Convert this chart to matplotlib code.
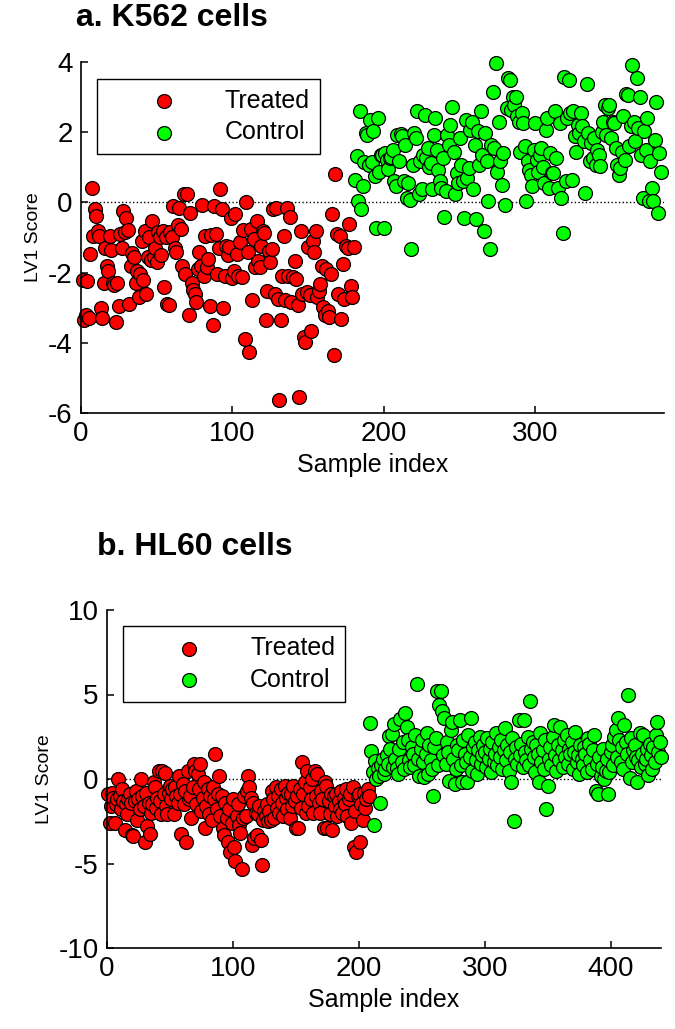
import numpy as np
import matplotlib.pyplot as plt

plt.rcParams['font.family'] = ['Liberation Sans', 'DejaVu Sans']
plt.rcParams['axes.unicode_minus'] = False

# a. K562 cells - LV1 score per sample, in sample order
k562_treated = [
    -2.2, -3.35, -3.2, -2.25, -3.3, -1.47, 0.42, -0.95, -0.2, -0.39,
    -0.81, -0.96, -3.0, -3.3, -2.3, -1.3, -1.8, -1.95, -0.96, -1.35,
    -2.3, -2.35, -3.4, -2.3, -2.94, -0.9, -1.3, -0.25, -0.85, -0.44,
    -0.8, -2.9, -1.8, -1.45, -1.55, -2.3, -1.95, -2.7, -2.05, -1.1,
    -2.2, -0.81, -2.6, -1.55, -1.0, -1.65, -0.53, -1.55, -1.3, -1.7,
    -0.85, -1.0, -1.5, -0.81, -2.4, -1.0, -2.9, -2.92, -0.85, -1.0,
    -0.1, -1.3, -1.4, -0.65, -0.15, -0.75, -1.8, 0.23, -2.05, 0.23,
    -3.2, -0.3, -2.3, -2.5, -2.6, -2.85, -1.9, -1.4, -1.8, -0.06,
    -2.1, -0.97, -1.85, -1.6, -2.95, -0.93, -3.5, -0.1, -0.9, -2.05,
    -1.3, 0.37, -0.2, -3.0, -2.1, -1.25, -1.5, -1.28, -0.44, -2.15,
    -1.95, -0.33, -1.47, -2.09, -1.14, -2.13, -0.8, -3.88, 0.0, -1.42,
    -4.26, -0.76, -2.79, -1.05, -1.85, -0.53, -1.66, -1.85, -1.24, -0.81,
    -0.86, -3.36, -2.51, -1.38, -1.71, -1.33, -0.2, -2.6, -0.15, -2.75,
    -5.63, -3.36, -2.09, -0.95, -2.79, -0.15, -2.09, -0.43, -2.84, -2.13,
    -1.66, -2.18, -2.93, -5.53, -0.81, -2.6, -3.84, -3.98, -2.55, -1.28,
    -2.65, -3.65, -1.09, -1.42, -0.81, -2.7, -2.51, -2.32, -1.8, -2.98,
    -3.22, -1.9, -3.08, -3.27, -2.04, -0.33, -4.35, 0.8, -0.9, -2.6,
    -0.95, -3.31, -1.75, -2.75, -1.24, -1.3, -0.62, -2.37, -2.7, -1.28,
]
k562_control = [
    0.65, 1.31, 0.04, 2.59, -0.2, 0.46, 1.16, 1.98, 1.93, 1.07,
    2.35, 1.16, 2.02, 0.74, -0.72, 2.4, 0.88, 1.36, 1.36, -0.72,
    1.4, 1.2, 0.95,
    1.26, 1.3, 1.5, 0.6, 0.46, 1.93, 1.17, 1.94, 1.9, 0.6, 1.64,
    0.13, 0.55, 0.08, -1.33, 1.07, 1.98, 1.84, 2.59, 0.23, 1.17,
    0.37, 1.36, 2.5, 1.26, 1.55, 1.0, 1.12, 0.37, 1.93, 2.4, 1.5, 0.93,
    0.6, 0.41, 1.26, -0.43, 0.32, 1.93, 1.64, 2.21, 2.73, 1.45,
    0.23, 0.84, 0.55, 1.83, 1.07, 0.6, -0.45, 2.35, 0.69, 0.98,
    2.07, 2.3, 0.37, 1.64, -0.48, 2.02, 1.07, 2.59, 1.36, -0.81,
    1.98, 1.17, 0.04, -1.33, 1.64, 3.15, 1.55, 3.96, 0.88, 2.3,
    1.17, 0.5, 1.41, -0.06, 2.68, 3.53, 3.48, 2.63, 3.01, 2.78,
    3.0, 2.45, 2.3, 1.45, 2.55, 2.25, 1.6, 0.04, 1.17, 0.93,
    0.79, 0.46, 1.5, 2.25, 1.2, 0.88, 1.36, 1.55, 1.0, 0.55, 2.07, 2.4,
    0.41, 1.41, 0.84, 0.84, 2.59, 1.26, 0.41, 2.25, 0.13, -0.86,
    3.58, 0.6, 2.4, 3.48, 2.55, 0.65, 2.59, 1.89, 1.45, 2.21,
    1.98, 2.55, 2.17, 1.74, 0.27, 3.36, 1.98, 1.17, 1.7, 1.26,
    1.84, 1.07, 1.5, 1.36, 1.03, 2.0, 2.3, 2.78, 1.93, 2.68, 2.78, 1.84,
    2.3, 2.25, 1.55, 1.07, 0.79, 0.98, 1.45, 2.45, 1.2, 3.1, 3.05, 1.6,
    2.17, 3.91, 2.3, 1.74, 3.55, 2.11, 3.0, 1.36, 0.13, 2.02,
    1.5, 2.4, 0.04, 1.17, 0.41, 0.04, 1.79, 2.86, -0.3, 1.41,
    0.88,
]

# b. HL60 cells
hl60_treated = [
    -0.9, -2.6, -1.6, -0.8, -1.1, -2.6, -1.5, -1.2, 0.0, -1.0,
    -1.8, -0.6, -1.3, -3.0, -1.5, -2.1, -1.2, -0.9, -1.4, -3.3,
    -3.4, -1.3, -0.7, -2.4, -1.2, -1.8, 0.0, -1.0, -1.6, -3.7,
    -0.8, -2.8, -1.4, -3.25, -2.0, -1.5, -0.2, -0.5, -1.7, -1.1,
    0.45, -1.3, -2.1, 0.5, -0.9, 0.35, -1.6, -2.1, -0.8, -0.4,
    -1.2, -0.6, -2.1, -0.5, -1.0, -1.4, 0.2, -0.9, -3.25, -0.3,
    -1.5, -0.7, -3.7, 0.45, -1.2, -1.0, -2.3, -0.5, 0.9, 0.5,
    -1.5, 0.3, -0.6, 0.9, -1.9, -1.1, -0.2, -2.9, -1.6, -0.6,
    -2.1, -1.0, -2.4, -0.5, -1.2, 1.5, -1.8, -0.9, 0.2, -2.2,
    -1.0, -2.9, -3.3, -1.4, -2.3, -3.7, -1.8, -4.3, -2.6, -1.2,
    -4.0, -4.85, -2.2, -1.5, -2.7, -3.2, -5.3, -2.3, -1.0, -2.2,
    -0.7, 0.2, -0.5, -1.1, -3.9, -1.4, -3.5, -2.0, -3.3, -2.1,
    -1.6, -3.6, -5.1, -2.4, -1.9, -2.2, -1.5, -2.5, -1.9, -2.4,
    -0.7, -1.2, -2.3, -0.5, -1.7, -1.0, -2.0, -0.6, -1.4, -2.2,
    -0.4, -1.1, -1.8, -0.8, -2.3, -0.9, -1.6, -0.4, -1.3, -2.9,
    -1.0, -2.9, -0.6, -1.7, 1.0, -0.9, -0.2, -2.0, 0.5, -1.6,
    -0.5, -1.2, 0.0, -2.0, 0.5, -1.0, 0.3, -1.4, -2.0, -0.7,
    -1.2, -2.9, -0.2, -0.4, -2.9, -1.3, -2.1, -0.9, -3.0, -1.0,
    -1.6, -0.9, -2.2, -1.3, -1.8, -0.7, -2.0, -1.1, -1.5, -0.6,
    -2.2, -1.2, -0.9, -2.6, -0.45, -4.0, -1.9, -4.3, -1.0, -0.9,
    -3.7, -1.5, -2.4, -0.8, -1.7, -1.2, -0.6, -1.0,
]
hl60_control = [
    3.3, 1.65, 0.4, -2.7, 1.07, 0.0, 0.67, 0.18, -1.4, 0.8,
    1.2, 0.3, 0.6, 1.4, 0.9, 2.56, 1.8, 2.66, 0.7, 3.25,
    1.2, 0.67, 0.3, 1.8, 3.54, 1.0, 2.2, 0.6, 3.9, 3.05,
    2.3, 1.1, 0.7, 1.9, 1.5, 0.8, 2.6, 5.6, 1.2, 0.2,
    1.8, 2.3, 1.0, 0.1, 1.5, 2.7, 0.3, 2.0, 1.1, 0.6,
    -1.0, 1.9, 2.4, 5.2, 0.8, 4.4, 5.2, 4.0, 1.4, 3.6,
    0.9, 2.2, 1.6, -0.1, 2.9, 3.4, 1.2, -0.3, 0.6, 2.0,
    1.7, 3.5, 0.8, -0.2, 2.3, 1.5, 1.0, -0.2, 2.6, 1.3,
    3.6, 0.5, 1.9, 2.2, 1.1, 0.3, 1.7, 2.5, 0.9, 1.4,
    2.0, 1.6, 0.7, 2.4, 1.2, 1.8, 0.4, 2.2, 1.0, 1.5,
    2.7, 0.8, 1.9, 1.3, 2.3, 0.6, 1.7, 3.0, 1.1, 2.0,
    0.5, 1.6, -0.15, 2.4, -2.5, 1.2, 1.9, 0.9, 3.5, 1.4,
    2.1, 0.7, 3.5, 1.6, 1.1, 2.5, 0.8, 4.6, 1.8, 2.2,
    1.3, 0.4, 2.0, 1.5, -0.2, 2.7, 1.0, 1.7, 0.6, 2.3,
    -1.8, -0.4, 1.2, 1.9, 0.8, 2.5, 3.2, 1.4, 0.5, 2.0,
    1.1, 3.1, 1.7, 0.7, 2.3, 1.3, 2.6, 0.9, 1.8, 1.5,
    2.2, 0.6, 1.6, 2.8, 1.0, 1.4, 0.3, 2.0, 1.2, 0.8,
    1.9, 1.5, 0.4, 2.4, 2.1, 1.1, 0.6, 1.7, 2.6, -0.7,
    0.9, -0.9, 1.3, 0.2, 0.7, 1.8, 0.0, 0.5, 1.2, -0.9,
    0.4, 1.6, 2.0, 0.8, 2.5, 2.9, 1.3, 3.6, 2.3, 1.0,
    1.9, 0.6, 3.2, 2.2, 1.5, 5.0, 0.04, 2.4, 1.0, 1.7,
    2.0, 1.3, -0.16, 1.1, 2.7, 0.7, 1.5, 2.6, 0.9, 1.2,
    1.8, 0.24, 2.1, 1.4, 0.6, 1.9, 1.0, 2.6, 3.4, 1.6,
    2.2, 1.3,
]


def draw_panel(ax, treated, control, xmax, ylim, yticks, xticks):
    n1 = len(treated)
    x1 = np.arange(1, n1 + 1)
    x2 = np.arange(n1 + 1, n1 + len(control) + 1)
    ax.axhline(0, color='k', ls=':', lw=1.0, zorder=1)
    ax.scatter(x1, treated, s=100, c='#ff0000', edgecolors='k', linewidths=0.9,
               label='Treated', zorder=2, clip_on=False)
    ax.scatter(x2, control, s=100, c='#00ff00', edgecolors='k', linewidths=0.9,
               label='Control', zorder=3, clip_on=False)
    ax.set_xlim(0, xmax)
    ax.set_ylim(*ylim)
    ax.set_xticks(xticks)
    ax.set_yticks(yticks)
    for s in ['top', 'right']:
        ax.spines[s].set_visible(False)
    for s in ['left', 'bottom']:
        ax.spines[s].set_linewidth(1.2)
    ax.tick_params(direction='in', length=5, width=1.1, labelsize=20, pad=6)
    ax.set_xlabel('Sample index', fontsize=18)
    ax.set_ylabel('LV1 Score', fontsize=14)
    leg = ax.legend(loc='upper left', bbox_to_anchor=(0.028, 0.952),
                    borderaxespad=0, fontsize=18, handlelength=4.5,
                    handletextpad=0.2, borderpad=0.4, labelspacing=0.3,
                    fancybox=False, edgecolor='k', framealpha=1,
                    scatterpoints=1)
    leg.get_frame().set_linewidth(1.0)


fig = plt.figure(figsize=(6.75, 10.29), dpi=100)
ax1 = fig.add_axes([81 / 675, 1 - 413 / 1029, (664 - 81) / 675, (413 - 62) / 1029])
ax2 = fig.add_axes([107 / 675, 1 - 948 / 1029, (661 - 107) / 675, (948 - 610) / 1029])

draw_panel(ax1, k562_treated, k562_control, 385, (-6, 4), np.arange(-6, 5, 2), [0, 100, 200, 300])
draw_panel(ax2, hl60_treated, hl60_control, 440, (-10, 10), np.arange(-10, 11, 5), [0, 100, 200, 300, 400])

fig.text(76 / 675, 1 - 26 / 1029, 'a. K562 cells', fontsize=23, fontweight='bold', ha='left', va='baseline')
fig.text(97 / 675, 1 - 555 / 1029, 'b. HL60 cells', fontsize=23, fontweight='bold', ha='left', va='baseline')

fig.savefig('out.png', dpi=100)
